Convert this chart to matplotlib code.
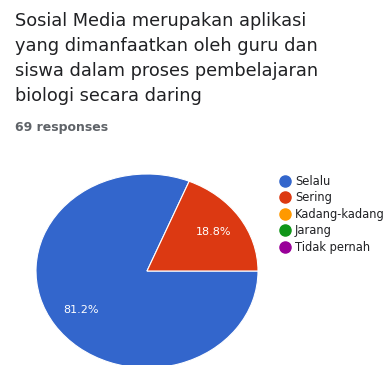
import matplotlib.pyplot as plt
from matplotlib.lines import Line2D

plt.rcParams['font.family'] = ['DejaVu Sans']

question = ['Sosial Media merupakan aplikasi',
            'yang dimanfaatkan oleh guru dan',
            'siswa dalam proses pembelajaran',
            'biologi secara daring']
n_responses = 69
labels = ['Selalu', 'Sering', 'Kadang-kadang', 'Jarang', 'Tidak pernah']
percents = [81.2, 18.8, 0.0, 0.0, 0.0]
colors = ['#3366cc', '#dc3912', '#ff9900', '#109618', '#990099']

W, H = 384, 365
fig = plt.figure(figsize=(W / 100, H / 100), dpi=100)

# question text + response count
for i, line in enumerate(question):
    fig.text(15 / W, 1 - (20.5 + i * 25.3) / H, line, fontsize=12.8,
             color='#202124', va='center', ha='left')
fig.text(15 / W, 1 - 128 / H, f'{n_responses} responses', fontsize=9,
         color='#5f6368', fontweight='bold', va='center', ha='left')

# pie (only non-zero slices get wedges)
cx, cy, rx, ry = 147, 271, 111, 97
ax = fig.add_axes([(cx - rx) / W, 1 - (cy + ry) / H, 2 * rx / W, 2 * ry / H])
vals = [v for v in percents if v > 0]
cols = [c for v, c in zip(percents, colors) if v > 0]
ax.pie(vals, colors=cols, startangle=360 * percents[1] / 100, counterclock=True,
       autopct='%.1f%%', pctdistance=0.72,
       wedgeprops=dict(edgecolor='white', linewidth=0.8),
       textprops=dict(color='white', fontsize=8))
ax.set_xlim(-1, 1)
ax.set_ylim(-1, 1)
ax.set_aspect('auto')

# legend
handles = [Line2D([], [], marker='o', linestyle='', markersize=8,
                  markerfacecolor=c, markeredgecolor=c) for c in colors]
fig.legend(handles, labels, loc='upper left', bbox_to_anchor=(274 / W, 1 - 169 / H),
           frameon=False, fontsize=8.3, handlelength=0.9, handletextpad=0.4,
           labelspacing=0.3, borderpad=0, labelcolor='#202124')

fig.savefig('out.png', dpi=100, facecolor='white')
